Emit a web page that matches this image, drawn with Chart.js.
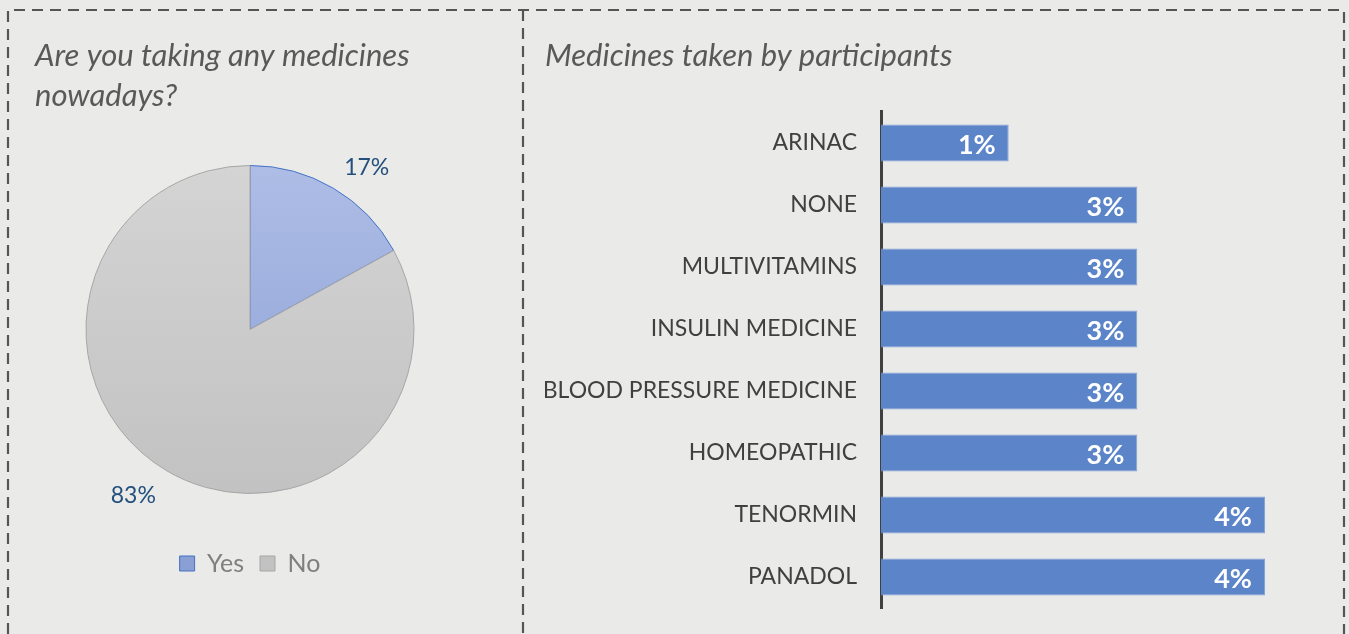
<!DOCTYPE html>
<html>
<head>
<meta charset="utf-8">
<script src="https://cdn.jsdelivr.net/npm/chart.js@4.4.1/dist/chart.umd.min.js"></script>
<style>
  html, body { margin: 0; padding: 0; background: #eaeae8; width: 1349px; height: 634px; overflow: hidden; }
  #frame { position: absolute; left: 0; top: 0; }
  .panel { position: absolute; top: 10px; height: 624px; }
  #left { left: 8px; width: 515px; }
  #right { left: 524px; width: 820px; }
</style>
</head>
<body>
<svg id="frame" width="1349" height="634">
  <path d="M8 634 V10 H1344 V634 M523 10 V634" fill="none" stroke="#555555" stroke-width="2.2" stroke-dasharray="11 7"/>
</svg>
<div class="panel" id="left"><canvas id="pieChart"></canvas></div>
<div class="panel" id="right"><canvas id="barChart"></canvas></div>
<script>
const pieLabels = ["Yes", "No"];
const pieValues = [17, 83];

const medicines = ["ARINAC", "NONE", "MULTIVITAMINS", "INSULIN MEDICINE", "BLOOD PRESSURE MEDICINE", "HOMEOPATHIC", "TENORMIN", "PANADOL"];
const shares = [1.33, 2.67, 2.67, 2.67, 2.67, 2.67, 4, 4];

const font = "Lato, 'Open Sans', sans-serif";
Chart.defaults.font.family = font;
Chart.defaults.animation = false;

// soft vertical shading like the office pie
const shades = [["#aebde6", "#8a9fd4"], ["#d4d4d4", "#c2c2c2"]];
function pieFill(c) {
    const [top, bottom] = shades[c.dataIndex] || shades[0];
    const area = c.chart.chartArea;
    if (!area) return top;
    const cy = (area.top + area.bottom) / 2;
    const g = c.chart.ctx.createLinearGradient(0, cy - 164, 0, cy + 164);
    g.addColorStop(0, top);
    g.addColorStop(1, bottom);
    return g;
}

// labels outside the pie slices
const pieLabelPlugin = {
    id: "pieLabels",
    afterDatasetsDraw(chart) {
        const ctx = chart.ctx;
        const meta = chart.getDatasetMeta(0);
        ctx.save();
        ctx.font = "23px " + font;
        ctx.fillStyle = "#24507e";
        meta.data.forEach((arc, i) => {
            const mid = (arc.startAngle + arc.endAngle) / 2;
            const r = arc.outerRadius + 21;
            const cx = Math.cos(mid), sy = Math.sin(mid);
            const text = chart.data.datasets[0].data[i] + "%";
            const w = ctx.measureText(text).width;
            const x = arc.x + cx * r + (cx > 0 ? w / 2 : -w / 2);
            const y = arc.y + sy * r + (sy > 0 ? 7 : -3);
            ctx.textAlign = "center";
            ctx.textBaseline = "middle";
            ctx.fillText(text, x, y);
        });
        ctx.restore();
    },
};

// value labels inside the bar ends
const barLabelPlugin = {
    id: "barLabels",
    afterDatasetsDraw(chart) {
        const ctx = chart.ctx;
        const meta = chart.getDatasetMeta(0);
        ctx.save();
        ctx.font = "bold 27px " + font;
        ctx.fillStyle = "#ffffff";
        ctx.textAlign = "right";
        ctx.textBaseline = "middle";
        meta.data.forEach((bar, i) => {
            const v = chart.data.datasets[0].data[i];
            ctx.fillText(Math.round(v) + "%", bar.x - 13, bar.y + 2);
        });
        ctx.restore();
    },
};

new Chart(document.getElementById("pieChart"), {
    type: "pie",
    data: {
        labels: pieLabels,
        datasets: [{
            data: pieValues,
            radius: 164,
            backgroundColor: pieFill,
            borderColor: ["#4472c4", "#a6a6a6"],
            borderWidth: 1,
        }],
    },
    options: {
        responsive: true,
        maintainAspectRatio: false,
        layout: { padding: { left: 27, right: 58, top: 0, bottom: 48 } },
        plugins: {
            title: {
                display: true,
                text: ["Are you taking any medicines", "nowadays?"],
                align: "start",
                color: "#595959",
                font: { size: 31, style: "italic", weight: "normal", lineHeight: 1.29 },
                padding: { top: 26, bottom: 8 },
            },
            legend: {
                position: "bottom",
                labels: { color: "#7f7f7f", font: { size: 25 }, boxWidth: 15, boxHeight: 15, padding: 16 },
            },
            tooltip: { enabled: false },
        },
    },
    plugins: [pieLabelPlugin],
});

new Chart(document.getElementById("barChart"), {
    type: "bar",
    data: {
        labels: medicines,
        datasets: [{
            data: shares,
            backgroundColor: "#5b84c9",
            borderColor: "#86a3d8",
            borderWidth: 1,
            barPercentage: 0.6,
            categoryPercentage: 1,
        }],
    },
    options: {
        indexAxis: "y",
        responsive: true,
        maintainAspectRatio: false,
        layout: { padding: { left: 21, right: 31, top: 0, bottom: 26 } },
        scales: {
            x: { display: false, min: 0, max: 4.5 },
            y: {
                grid: { display: false, drawTicks: false },
                border: { display: true, color: "#404040", width: 3 },
                ticks: { color: "#404040", font: { size: 23 }, padding: 24 },
                afterFit(scale) {
                    scale.width = 336;
                    scale.paddingTop = 0;
                    scale.paddingBottom = 0;
                },
            },
        },
        plugins: {
            title: {
                display: true,
                text: "Medicines taken by participants",
                align: "start",
                color: "#595959",
                font: { size: 31, style: "italic", weight: "normal", lineHeight: 1.29 },
                padding: { top: 26, bottom: 36 },
            },
            legend: { display: false },
            tooltip: { enabled: false },
        },
    },
    plugins: [barLabelPlugin],
});
</script>
</body>
</html>
